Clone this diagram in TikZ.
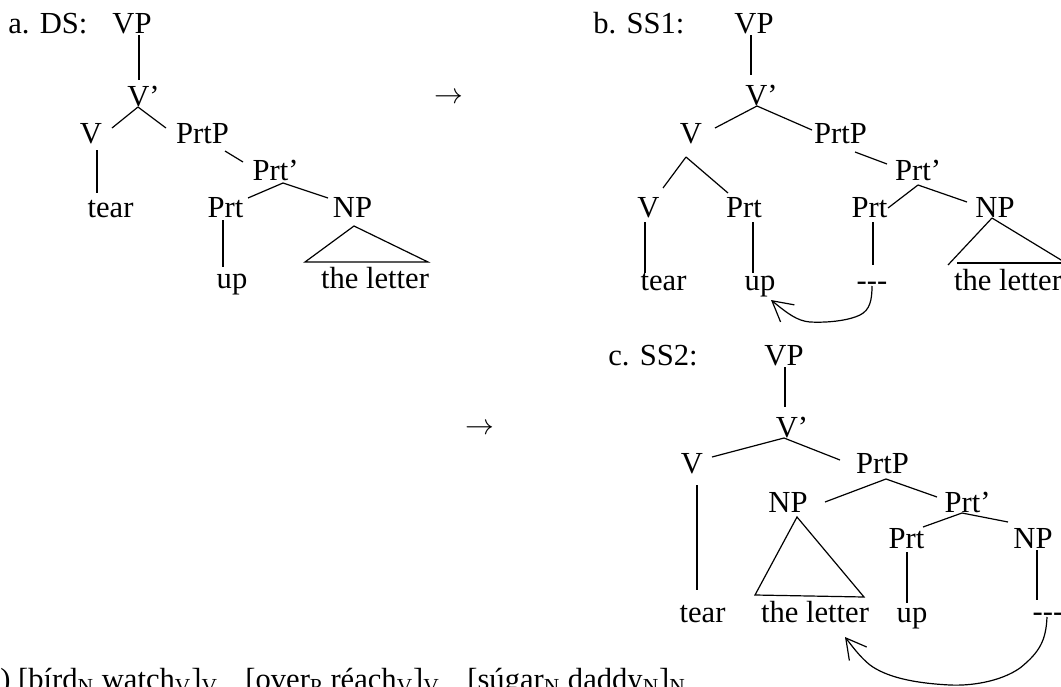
\documentclass[tikz,border=0pt]{standalone}
\usepackage{fontspec}
\setmainfont{Liberation Serif}
\usetikzlibrary{calc,arrows.meta}
\tikzset{
  tn/.style={inner sep=0pt, anchor=base, font=\fontsize{15.3}{18}\selectfont},
  lab/.style={inner sep=0pt, anchor=base west, font=\fontsize{15.3}{18}\selectfont},
  br/.style={line width=0.6pt},
  mv/.style={line width=0.6pt, -{Straight Barb[length=10pt,width=11pt,line width=0.6pt]}},
}
\begin{document}
\begin{tikzpicture}[x=0.5pt,y=-0.5pt]
\useasboundingbox (0,0) rectangle (1061,686);
% ---------- a. DS ----------
\node[lab] (aLab) at (8,33) {a. DS:};
\node[tn] (aVP) at (132,33) {VP};
\node[tn] (aVb) at (143.5,106) {V’};
\node[tn] (aV) at (91,143) {V};
\node[tn] (aPrtP) at (202.5,143) {PrtP};
\node[tn] (aPrtb) at (275.5,180) {Prt’};
\node[tn] (atear) at (110.5,217) {tear};
\node[tn] (aPrt) at (225.5,217) {Prt};
\node[tn] (aNP) at (352.5,217) {NP};
\node[tn] (aup) at (232,288) {up};
\node[tn] (alet) at (375,288) {the letter};
\draw[br] ($(aVP.base)+(7,2)$) -- ($(aVb.base)+(-4.5,-26)$);
\draw[br] ($(aVb.base)+(-5.5,1)$) -- ($(aV.base)+(21,-15)$);
\draw[br] ($(aVb.base)+(-5.5,1)$) -- ($(aPrtP.base)+(-36.5,-15)$);
\draw[br] ($(aV.base)+(6,7)$) -- ($(atear.base)+(-13.5,-24)$);
\draw[br] ($(aPrtP.base)+(22.5,8)$) -- ($(aPrtb.base)+(-32.5,-18)$);
\draw[br] ($(aPrtb.base)+(7.5,3)$) -- ($(aPrt.base)+(22.5,-19)$);
\draw[br] ($(aPrtb.base)+(7.5,3)$) -- ($(aNP.base)+(-24.5,-19)$);
\draw[br] ($(aPrt.base)+(-2.5,3)$) -- ($(aup.base)+(-9,-21)$);
\draw[br] ($(aNP.base)+(1.5,9)$) -- ($(alet.base)+(-70,-26)$) -- ($(alet.base)+(53,-26)$) -- cycle;
\node[tn, anchor=center] (arr1) at (449,98) {$\rightarrow$};
\node[tn, anchor=center] (arr2) at (479.5,429) {$\rightarrow$};
% ---------- b. SS1 ----------
\node[lab] (bLab) at (593,33) {b. SS1:};
\node[tn] (bVP) at (754,33) {VP};
\node[tn] (bVb) at (761.5,105) {V’};
\node[tn] (bV) at (691,143) {V};
\node[tn] (bPrtP) at (840.5,143) {PrtP};
\node[tn] (bPrtb) at (918,180) {Prt’};
\node[tn] (bV2) at (648.5,217) {V};
\node[tn] (bPrt1) at (744,217) {Prt};
\node[tn] (bPrt2) at (869.5,217) {Prt};
\node[tn] (bNP) at (995,217) {NP};
\node[tn] (btear) at (663.5,290) {tear};
\node[tn] (bup) at (760,290) {up};
\node[tn] (btr) at (872,290) {-{}-{}-};
\node[tn] (blet) at (1008,290) {the letter};
\draw[br] ($(bVP.base)+(-3,2)$) -- ($(bVb.base)+(-10.5,-30)$);
\draw[br] ($(bVb.base)+(-4.5,1)$) -- ($(bV.base)+(24,-15)$);
\draw[br] ($(bVb.base)+(-4.5,1)$) -- ($(bPrtP.base)+(-28.5,-13)$);
\draw[br] ($(bV.base)+(-5,14)$) -- ($(bV2.base)+(14.5,-29)$);
\draw[br] ($(bV.base)+(-5,14)$) -- ($(bPrt1.base)+(-16,-24)$);
\draw[br] ($(bPrtP.base)+(14.5,9)$) -- ($(bPrtb.base)+(-31,-16)$);
\draw[br] ($(bPrtb.base)+(0,5)$) -- ($(bPrt2.base)+(18.5,-9)$);
\draw[br] ($(bPrtb.base)+(0,5)$) -- ($(bNP.base)+(-28,-15)$);
\draw[br] ($(bV2.base)+(-3.5,5)$) -- ($(btear.base)+(-18.5,-17)$);
\draw[br] ($(bPrt1.base)+(9,5)$) -- ($(bup.base)+(-7,-17)$);
\draw[br] ($(bPrt2.base)+(3.5,5)$) -- ($(btr.base)+(1,-25)$);
\draw[br] ($(bNP.base)+(-3,1)$) -- ($(blet.base)+(-60,-25)$);
\draw[br] ($(bNP.base)+(-3,1)$) -- ($(blet.base)+(58,-27)$);
\draw[br] ($(blet.base)+(-51,-27)$) -- ($(blet.base)+(60,-27)$);
\draw[mv] ($(btr.base)+(0,-4)$) .. controls (872,300) and (870,310) .. (860,315)
  .. controls (850,320) and (830,323) .. (810,322)
  .. controls (797,321) and (787,313) .. ($(bup.base)+(11,10)$);
% ---------- c. SS2 ----------
\node[lab] (cLab) at (608,365) {c. SS2:};
\node[tn] (cVP) at (784,365) {VP};
\node[tn] (cVb) at (792,437) {V’};
\node[tn] (cV) at (692,473) {V};
\node[tn] (cPrtP) at (882.5,473) {PrtP};
\node[tn] (cNP1) at (788,512) {NP};
\node[tn] (cPrtb) at (967.5,512) {Prt’};
\node[tn] (cPrt) at (906.5,548) {Prt};
\node[tn] (cNP2) at (1033,548) {NP};
\node[tn] (ctear) at (702.5,622) {tear};
\node[tn] (clet) at (815,622) {the letter};
\node[tn] (cup) at (912,622) {up};
\node[tn] (ctr) at (1048,621) {-{}-{}-};
\draw[br] ($(cVP.base)+(1,2)$) -- ($(cVb.base)+(-7,-30)$);
\draw[br] ($(cVb.base)+(-8,1)$) -- ($(cV.base)+(20,-16)$);
\draw[br] ($(cVb.base)+(-8,1)$) -- ($(cPrtP.base)+(-42.5,-13)$);
\draw[br] ($(cV.base)+(5,12)$) -- ($(ctear.base)+(-5.5,-32)$);
\draw[br] ($(cPrtP.base)+(3.5,6)$) -- ($(cNP1.base)+(37,-10)$);
\draw[br] ($(cPrtP.base)+(3.5,6)$) -- ($(cPrtb.base)+(-30.5,-15)$);
\draw[br] ($(cPrtb.base)+(-5.5,1)$) -- ($(cPrt.base)+(16.5,-21)$);
\draw[br] ($(cPrtb.base)+(-5.5,1)$) -- ($(cNP2.base)+(-25,-26)$);
\draw[br] ($(cPrt.base)+(0.5,4)$) -- ($(cup.base)+(-5,-19)$);
\draw[br] ($(cNP2.base)+(4,2)$) -- ($(ctr.base)+(-11,-21)$);
\draw[br] ($(cNP1.base)+(9,5)$) -- ($(clet.base)+(-60,-27)$) -- ($(clet.base)+(49,-25)$) -- cycle;
\draw[mv] ($(ctr.base)+(-1,-4)$) .. controls (1046,640) and (1040,652) .. (1020,668)
  .. controls (1000,682) and (970,686) .. (950,685)
  .. controls (910,683) and (885,676) .. (870,665)
  .. controls (860,657) and (852,646) .. ($(clet.base)+(30,15)$);
% ---------- bottom line (cut off, as in the reference) ----------
\node[lab] (ex1) at (0,689) {) [bírd\textsubscript{N} watch\textsubscript{V}]\textsubscript{V}};
\node[lab] (ex2) at (245,689) {[over\textsubscript{P} réach\textsubscript{V}]\textsubscript{V}};
\node[lab] (ex3) at (467,689) {[súgar\textsubscript{N} daddy\textsubscript{N}]\textsubscript{N}};
\end{tikzpicture}
\end{document}
